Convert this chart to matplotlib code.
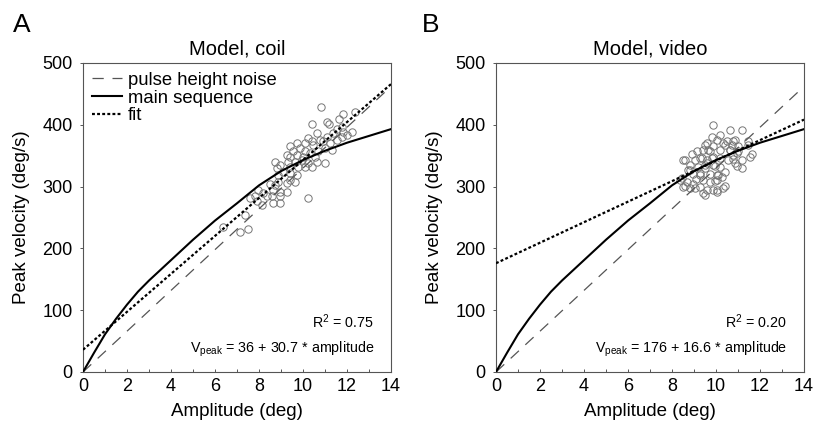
import matplotlib
matplotlib.use("Agg")
import matplotlib.pyplot as plt
import numpy as np

plt.rcParams['font.family'] = ['Liberation Sans', 'DejaVu Sans']
plt.rcParams['mathtext.fontset'] = 'custom'
plt.rcParams['mathtext.rm'] = 'Liberation Sans'
plt.rcParams['mathtext.it'] = 'Liberation Sans:italic'
plt.rcParams['mathtext.bf'] = 'Liberation Sans:bold'

# ---------------- data ----------------
ms_amp = [0, 0.5, 1, 1.5, 2, 2.5, 3, 4, 5, 6, 7, 8, 9, 10, 11, 12, 13, 14]
ms_vel = [0, 31, 61, 86, 109, 130, 148, 181, 214, 245, 273, 302, 325, 343, 358, 371, 382, 393]

noise_amp = [0, 14]
noise_vel = [0, 462]

fit_A = (36, 30.7)
fit_B = (176, 16.6)
r2_A = "0.75"
r2_B = "0.20"

coil_amp = [10.82, 11.83, 12.35, 11.11, 11.2, 10.42, 11.64, 11.76, 10.62, 11.53,
            11.83, 12.21, 11.98, 11.38, 11.76, 11.08, 10.24, 9.71, 10.09, 10.39,
            10.92, 11.23, 11.53, 10.77, 10.47, 9.41, 9.56, 9.86, 10.09, 10.32,
            10.70, 11.0, 11.30, 9.26, 9.41, 9.71, 10.02, 10.55, 8.73, 8.95,
            9.33, 9.64, 9.94, 10.24, 10.62, 11.0, 8.80, 9.41, 9.79, 10.09,
            10.39, 9.11, 9.41, 9.71, 8.88, 8.88, 9.26, 8.73, 9.41, 9.64,
            8.50, 7.97, 8.20, 8.65, 8.95, 9.26, 8.35, 8.58, 8.95, 7.82,
            7.59, 7.89, 8.12, 8.65, 8.95, 10.24, 7.36, 6.38, 7.14, 7.52]
coil_vel = [428, 417, 420, 405, 401, 401, 409, 397, 387, 394,
            389, 388, 383, 386, 381, 381, 378, 371, 370, 373,
            373, 370, 375, 375, 367, 365, 357, 362, 357, 354,
            357, 362, 359, 351, 348, 351, 348, 348, 339, 335,
            340, 340, 343, 338, 340, 338, 330, 332, 331, 331,
            331, 324, 322, 319, 319, 308, 306, 303, 311, 308,
            305, 294, 289, 294, 292, 292, 284, 284, 284, 284,
            281, 276, 270, 273, 273, 281, 254, 234, 227, 231]

video_amp = [9.85, 10.64, 11.17, 10.18, 9.80, 10.03, 10.48, 10.86, 10.33, 10.71,
             9.58, 9.88, 9.42, 9.12, 9.73, 10.18, 10.64, 11.02, 11.47, 11.55,
             11.17, 10.86, 11.17, 10.56, 10.79, 10.94, 8.52, 9.05, 9.27, 9.58,
             9.88, 10.18, 8.82, 9.20, 9.50, 9.88, 10.18, 9.73, 10.03, 8.97,
             9.27, 8.82, 9.42, 9.73, 10.03, 10.26, 8.36, 8.67, 8.97, 8.52,
             8.82, 9.27, 9.58, 9.88, 10.33, 9.42, 10.03, 9.60, 10.40, 9.10,
             9.50, 10.39, 10.79, 11.47, 9.65, 10.63, 11.00, 11.62, 8.90, 9.35,
             9.80, 10.79, 8.59, 9.50, 9.95, 10.94, 8.74, 9.27, 10.10, 8.44,
             9.95, 10.40, 8.59, 9.05, 10.03, 9.50]
video_vel = [400, 392, 391, 383, 381, 375, 373, 375, 370, 367,
             370, 365, 359, 357, 357, 359, 359, 365, 367, 348,
             343, 338, 330, 343, 351, 354, 343, 343, 346, 343,
             348, 346, 335, 332, 330, 335, 332, 321, 319, 321,
             319, 327, 311, 308, 311, 316, 311, 308, 305, 300,
             297, 300, 294, 294, 297, 289, 292, 338, 324, 313,
             368, 368, 373, 373, 360, 360, 357, 352, 352, 346,
             346, 344, 343, 335, 333, 333, 327, 322, 319, 314,
             309, 301, 301, 298, 295, 287]

titles = ["Model, coil", "Model, video"]
panel_letters = ["A", "B"]
xticks = [0, 2, 4, 6, 8, 10, 12, 14]
yticks = [0, 100, 200, 300, 400, 500]

# ---------------- figure ----------------
W, H = 815, 426
fig = plt.figure(figsize=(W / 100, H / 100), dpi=100)

ax_left_px = [83, 496]
ax_w_px = 308
ax_top_px, ax_bot_px = 63, 372

spine_col = '#555555'
scatter_sets = [(coil_amp, coil_vel), (video_amp, video_vel)]
fits = [fit_A, fit_B]
r2s = [r2_A, r2_B]

for i in range(2):
    ax = fig.add_axes([ax_left_px[i] / W, 1 - ax_bot_px / H,
                       ax_w_px / W, (ax_bot_px - ax_top_px) / H])
    sx, sy = scatter_sets[i]
    ax.plot(sx, sy, linestyle='none', marker='o', markersize=5.3,
            markerfacecolor='none', markeredgecolor='#767676',
            markeredgewidth=0.7, zorder=2)
    l1, = ax.plot(noise_amp, noise_vel, color='#555555', lw=0.9,
                  dashes=(9, 7), zorder=3, label='pulse height noise')
    l2, = ax.plot(ms_amp, ms_vel, color='black', lw=1.5, zorder=4,
                  label='main sequence')
    a, b = fits[i]
    fx = np.array([0, 14])
    l3, = ax.plot(fx, a + b * fx, color='black', lw=1.6,
                  dashes=(1.3, 1.0), zorder=5, label='fit')

    ax.set_xlim(0, 14)
    ax.set_ylim(0, 500)
    ax.set_xticks(xticks)
    ax.set_xticks([1, 3, 5, 7, 9, 11, 13], minor=True)
    ax.set_yticks(yticks)
    ax.tick_params(axis='x', which='both', direction='in', length=2.0,
                   width=0.7, color=spine_col, labelsize=13, pad=4)
    ax.tick_params(axis='y', which='both', direction='out', length=2.5,
                   width=0.7, color=spine_col, labelsize=13, pad=5)
    for s in ax.spines.values():
        s.set_color(spine_col)
        s.set_linewidth(0.8)

    ax.set_xlabel('Amplitude (deg)', fontsize=13.5, labelpad=6)
    ax.set_ylabel('Peak velocity (deg/s)', fontsize=13.5, labelpad=9)
    ax.set_title(titles[i], fontsize=14.5, pad=6)

    ax.text(0.943, 0.142, r'R$^2$ = ' + r2s[i], transform=ax.transAxes,
            ha='right', va='baseline', fontsize=10.3)
    ax.text(0.945, 0.063,
            r'V$_{\mathrm{peak}}$ = %g + %g * amplitude' % (a, b),
            transform=ax.transAxes, ha='right', va='baseline', fontsize=10.3)

    if i == 0:
        ax.legend(handles=[l1, l2, l3], loc='upper left',
                  bbox_to_anchor=(0.029, 0.972), frameon=False,
                  fontsize=13.3, borderpad=0, borderaxespad=0,
                  labelspacing=0.05, handlelength=1.65, handletextpad=0.3)

    fig.text((13 if i == 0 else 422) / W, 1 - 32 / H, panel_letters[i],
             fontsize=19, ha='left', va='baseline')

fig.savefig('out.png', dpi=100)
